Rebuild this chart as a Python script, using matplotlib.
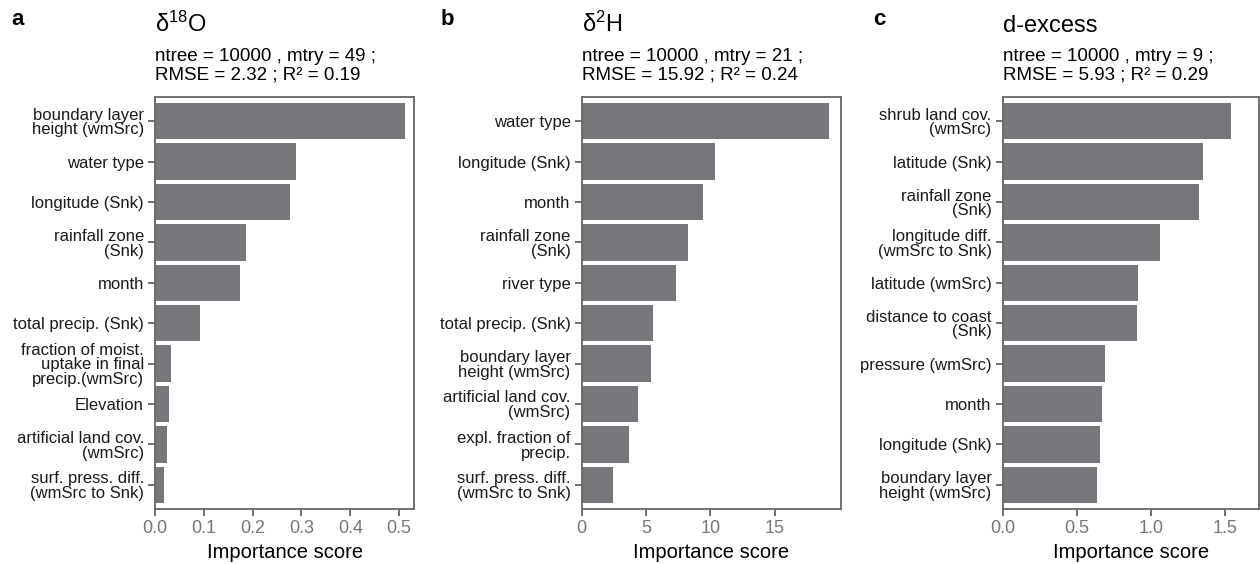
import matplotlib
matplotlib.use('Agg')
import matplotlib.pyplot as plt
import numpy as np

plt.rcParams['font.family'] = ['Liberation Sans', 'DejaVu Sans']
plt.rcParams['mathtext.fontset'] = 'custom'
plt.rcParams['mathtext.rm'] = 'Liberation Sans'
plt.rcParams['mathtext.it'] = 'Liberation Sans:italic'

labels_a = ["boundary layer\nheight (wmSrc)", "water type", "longitude (Snk)",
            "rainfall zone\n(Snk)", "month", "total precip. (Snk)",
            "fraction of moist.\nuptake in final\nprecip.(wmSrc)", "Elevation",
            "artificial land cov.\n(wmSrc)", "surf. press. diff.\n(wmSrc to Snk)"]
values_a = [0.512, 0.289, 0.277, 0.186, 0.175, 0.093, 0.033, 0.029, 0.024, 0.018]
ticks_a = [0.0, 0.1, 0.2, 0.3, 0.4, 0.5]
ticklabels_a = ["0.0", "0.1", "0.2", "0.3", "0.4", "0.5"]

labels_b = ["water type", "longitude (Snk)", "month", "rainfall zone\n(Snk)",
            "river type", "total precip. (Snk)", "boundary layer\nheight (wmSrc)",
            "artificial land cov.\n(wmSrc)", "expl. fraction of\nprecip.",
            "surf. press. diff.\n(wmSrc to Snk)"]
values_b = [19.19, 10.36, 9.40, 8.24, 7.35, 5.57, 5.36, 4.40, 3.68, 2.41]
ticks_b = [0, 5, 10, 15]
ticklabels_b = ["0", "5", "10", "15"]

labels_c = ["shrub land cov.\n(wmSrc)", "latitude (Snk)", "rainfall zone\n(Snk)",
            "longitude diff.\n(wmSrc to Snk)", "latitude (wmSrc)",
            "distance to coast\n(Snk)", "pressure (wmSrc)", "month",
            "longitude (Snk)", "boundary layer\nheight (wmSrc)"]
values_c = [1.543, 1.354, 1.323, 1.058, 0.912, 0.905, 0.689, 0.671, 0.656, 0.635]
ticks_c = [0.0, 0.5, 1.0, 1.5]
ticklabels_c = ["0.0", "0.5", "1.0", "1.5"]

letters = ["a", "b", "c"]
titles = [r"$\mathregular{\delta^{18}O}$", r"$\mathregular{\delta^{2}H}$", "d-excess"]
sub1 = ["ntree = 10000 , mtry = 49 ;", "ntree = 10000 , mtry = 21 ;", "ntree = 10000 , mtry = 9 ;"]
sub2 = ["RMSE = 2.32 ; R\u00b2 = 0.19", "RMSE = 15.92 ; R\u00b2 = 0.24", "RMSE = 5.93 ; R\u00b2 = 0.29"]
xmax = [0.531, 20.12, 1.729]

W, H = 1260, 564
fig = plt.figure(figsize=(W / 100, H / 100), dpi=100)

# pixel geometry: (left, right, top, bottom)
boxes = [(155, 414.3, 97, 509), (581.7, 840.7, 97, 509), (1002.7, 1259, 97, 509)]
letter_x = [11, 441, 873]

BAR = "#76777b"
SPINE = "#666666"

panels = [(labels_a, values_a, ticks_a, ticklabels_a),
          (labels_b, values_b, ticks_b, ticklabels_b),
          (labels_c, values_c, ticks_c, ticklabels_c)]

for i, (labs, vals, tks, tkl) in enumerate(panels):
    l, r, t, b = boxes[i]
    ax = fig.add_axes([l / W, 1 - b / H, (r - l) / W, (b - t) / H])
    n = len(vals)
    y = np.arange(n)[::-1]
    ax.barh(y, vals, height=0.9, color=BAR, edgecolor='none')
    ax.set_ylim(-0.6, n - 1 + 0.6)
    ax.set_xlim(0, xmax[i])
    ax.set_yticks(y)
    ax.set_yticklabels(labs, fontsize=12, color='#1a1a1a', linespacing=0.98)
    ax.set_xticks(tks)
    ax.set_xticklabels(tkl, fontsize=13, color='#777777')
    for s in ax.spines.values():
        s.set_color(SPINE)
        s.set_linewidth(1.3)
    ax.tick_params(axis='both', length=5, width=1.3, color=SPINE, pad=3)
    ax.set_xlabel("Importance score", fontsize=14.5, labelpad=4)
    # titles
    fig.text(letter_x[i] / W, 1 - 25 / H, letters[i], fontsize=16, fontweight='bold',
             va='baseline', ha='left')
    fig.text(l / W, 1 - 32 / H, titles[i], fontsize=17, va='baseline', ha='left')
    fig.text(l / W, 1 - 61 / H, sub1[i], fontsize=13.5, va='baseline', ha='left')
    fig.text(l / W, 1 - 79.5 / H, sub2[i], fontsize=13.5, va='baseline', ha='left')

fig.savefig("out.png", dpi=100)
